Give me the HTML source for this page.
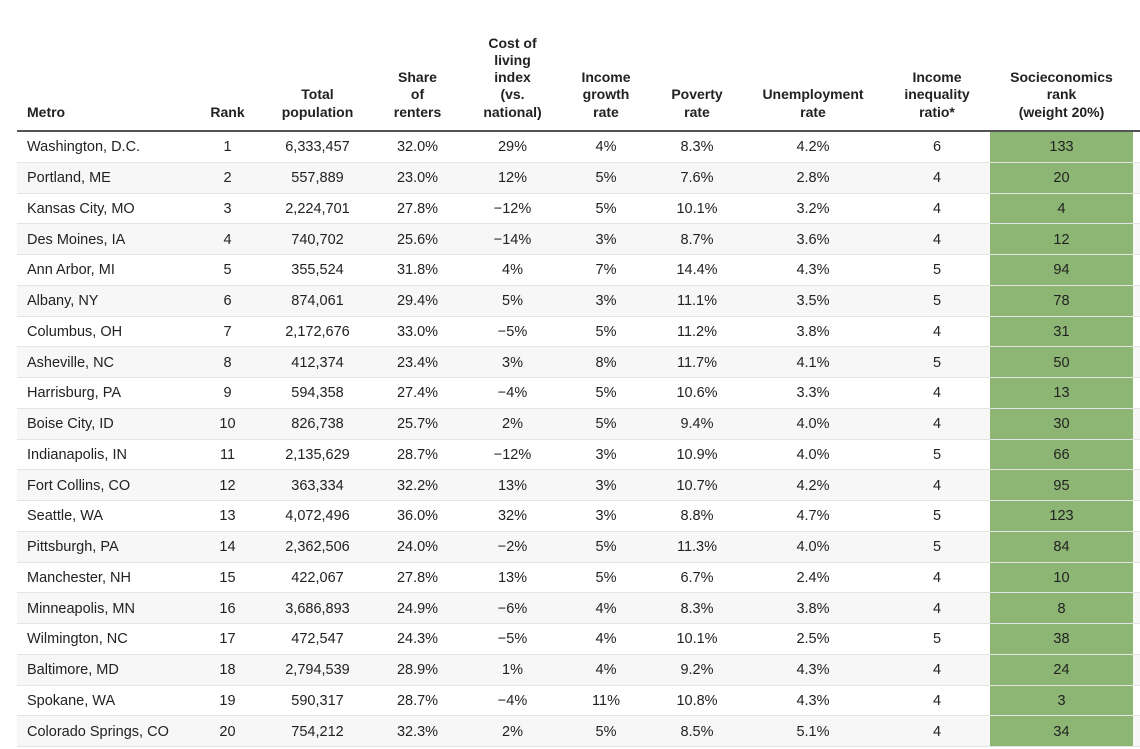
<!DOCTYPE html>
<html><head><style>
body{margin:0;width:1140px;height:749px;background:#fff;font-family:"Liberation Sans",Arial,sans-serif;color:#222;overflow:hidden;position:relative}
.t{position:absolute;left:17px;top:0;width:1123px}
.h{display:flex;height:130px;border-bottom:2px solid #555;align-items:flex-end;font-weight:bold;font-size:14px;line-height:17.3px}
.h div{text-align:center;padding-bottom:9px}
.r{display:flex;height:30.75px;box-sizing:border-box;border-bottom:1px solid #e4e4e4;font-size:14.5px;align-items:center;padding-top:1px}
.r:nth-child(even){background:#f7f7f7}
.r div{text-align:center}
.c0{width:168px;text-align:left!important;padding-left:10px;box-sizing:border-box}
.c1{width:85px}.c2{width:95px}.c3{width:105px}.c4{width:85px}.c5{width:102px}.c6{width:80px}.c7{width:152px}.c8{width:96px}
.c9{width:143px;margin-left:5px}
.r .c9{background:#8db573;align-self:stretch;display:flex;align-items:center;justify-content:center;margin-top:-1px;padding-top:1px}
</style></head><body>
<div class="t">
<div class="h"><div class="c0">Metro</div><div class="c1">Rank</div><div class="c2">Total<br>population</div><div class="c3">Share<br>of<br>renters</div><div class="c4">Cost of<br>living<br>index<br>(vs.<br>national)</div><div class="c5">Income<br>growth<br>rate</div><div class="c6">Poverty<br>rate</div><div class="c7">Unemployment<br>rate</div><div class="c8">Income<br>inequality<br>ratio*</div><div class="c9">Socieconomics<br>rank<br>(weight 20%)</div></div>
<div>
<div class="r"><div class="c0">Washington, D.C.</div><div class="c1">1</div><div class="c2">6,333,457</div><div class="c3">32.0%</div><div class="c4">29%</div><div class="c5">4%</div><div class="c6">8.3%</div><div class="c7">4.2%</div><div class="c8">6</div><div class="c9">133</div></div>
<div class="r"><div class="c0">Portland, ME</div><div class="c1">2</div><div class="c2">557,889</div><div class="c3">23.0%</div><div class="c4">12%</div><div class="c5">5%</div><div class="c6">7.6%</div><div class="c7">2.8%</div><div class="c8">4</div><div class="c9">20</div></div>
<div class="r"><div class="c0">Kansas City, MO</div><div class="c1">3</div><div class="c2">2,224,701</div><div class="c3">27.8%</div><div class="c4">−12%</div><div class="c5">5%</div><div class="c6">10.1%</div><div class="c7">3.2%</div><div class="c8">4</div><div class="c9">4</div></div>
<div class="r"><div class="c0">Des Moines, IA</div><div class="c1">4</div><div class="c2">740,702</div><div class="c3">25.6%</div><div class="c4">−14%</div><div class="c5">3%</div><div class="c6">8.7%</div><div class="c7">3.6%</div><div class="c8">4</div><div class="c9">12</div></div>
<div class="r"><div class="c0">Ann Arbor, MI</div><div class="c1">5</div><div class="c2">355,524</div><div class="c3">31.8%</div><div class="c4">4%</div><div class="c5">7%</div><div class="c6">14.4%</div><div class="c7">4.3%</div><div class="c8">5</div><div class="c9">94</div></div>
<div class="r"><div class="c0">Albany, NY</div><div class="c1">6</div><div class="c2">874,061</div><div class="c3">29.4%</div><div class="c4">5%</div><div class="c5">3%</div><div class="c6">11.1%</div><div class="c7">3.5%</div><div class="c8">5</div><div class="c9">78</div></div>
<div class="r"><div class="c0">Columbus, OH</div><div class="c1">7</div><div class="c2">2,172,676</div><div class="c3">33.0%</div><div class="c4">−5%</div><div class="c5">5%</div><div class="c6">11.2%</div><div class="c7">3.8%</div><div class="c8">4</div><div class="c9">31</div></div>
<div class="r"><div class="c0">Asheville, NC</div><div class="c1">8</div><div class="c2">412,374</div><div class="c3">23.4%</div><div class="c4">3%</div><div class="c5">8%</div><div class="c6">11.7%</div><div class="c7">4.1%</div><div class="c8">5</div><div class="c9">50</div></div>
<div class="r"><div class="c0">Harrisburg, PA</div><div class="c1">9</div><div class="c2">594,358</div><div class="c3">27.4%</div><div class="c4">−4%</div><div class="c5">5%</div><div class="c6">10.6%</div><div class="c7">3.3%</div><div class="c8">4</div><div class="c9">13</div></div>
<div class="r"><div class="c0">Boise City, ID</div><div class="c1">10</div><div class="c2">826,738</div><div class="c3">25.7%</div><div class="c4">2%</div><div class="c5">5%</div><div class="c6">9.4%</div><div class="c7">4.0%</div><div class="c8">4</div><div class="c9">30</div></div>
<div class="r"><div class="c0">Indianapolis, IN</div><div class="c1">11</div><div class="c2">2,135,629</div><div class="c3">28.7%</div><div class="c4">−12%</div><div class="c5">3%</div><div class="c6">10.9%</div><div class="c7">4.0%</div><div class="c8">5</div><div class="c9">66</div></div>
<div class="r"><div class="c0">Fort Collins, CO</div><div class="c1">12</div><div class="c2">363,334</div><div class="c3">32.2%</div><div class="c4">13%</div><div class="c5">3%</div><div class="c6">10.7%</div><div class="c7">4.2%</div><div class="c8">4</div><div class="c9">95</div></div>
<div class="r"><div class="c0">Seattle, WA</div><div class="c1">13</div><div class="c2">4,072,496</div><div class="c3">36.0%</div><div class="c4">32%</div><div class="c5">3%</div><div class="c6">8.8%</div><div class="c7">4.7%</div><div class="c8">5</div><div class="c9">123</div></div>
<div class="r"><div class="c0">Pittsburgh, PA</div><div class="c1">14</div><div class="c2">2,362,506</div><div class="c3">24.0%</div><div class="c4">−2%</div><div class="c5">5%</div><div class="c6">11.3%</div><div class="c7">4.0%</div><div class="c8">5</div><div class="c9">84</div></div>
<div class="r"><div class="c0">Manchester, NH</div><div class="c1">15</div><div class="c2">422,067</div><div class="c3">27.8%</div><div class="c4">13%</div><div class="c5">5%</div><div class="c6">6.7%</div><div class="c7">2.4%</div><div class="c8">4</div><div class="c9">10</div></div>
<div class="r"><div class="c0">Minneapolis, MN</div><div class="c1">16</div><div class="c2">3,686,893</div><div class="c3">24.9%</div><div class="c4">−6%</div><div class="c5">4%</div><div class="c6">8.3%</div><div class="c7">3.8%</div><div class="c8">4</div><div class="c9">8</div></div>
<div class="r"><div class="c0">Wilmington, NC</div><div class="c1">17</div><div class="c2">472,547</div><div class="c3">24.3%</div><div class="c4">−5%</div><div class="c5">4%</div><div class="c6">10.1%</div><div class="c7">2.5%</div><div class="c8">5</div><div class="c9">38</div></div>
<div class="r"><div class="c0">Baltimore, MD</div><div class="c1">18</div><div class="c2">2,794,539</div><div class="c3">28.9%</div><div class="c4">1%</div><div class="c5">4%</div><div class="c6">9.2%</div><div class="c7">4.3%</div><div class="c8">4</div><div class="c9">24</div></div>
<div class="r"><div class="c0">Spokane, WA</div><div class="c1">19</div><div class="c2">590,317</div><div class="c3">28.7%</div><div class="c4">−4%</div><div class="c5">11%</div><div class="c6">10.8%</div><div class="c7">4.3%</div><div class="c8">4</div><div class="c9">3</div></div>
<div class="r"><div class="c0">Colorado Springs, CO</div><div class="c1">20</div><div class="c2">754,212</div><div class="c3">32.3%</div><div class="c4">2%</div><div class="c5">5%</div><div class="c6">8.5%</div><div class="c7">5.1%</div><div class="c8">4</div><div class="c9">34</div></div>
</div>
</div>
</body></html>
